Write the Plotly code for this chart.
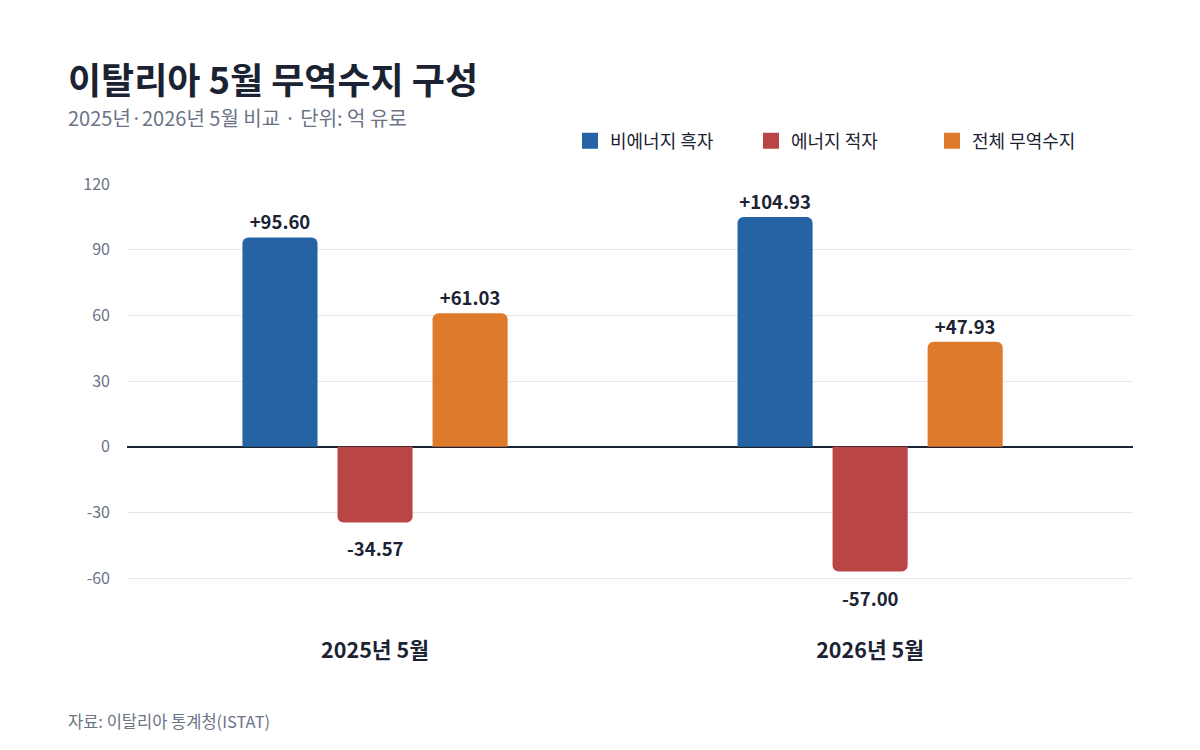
import plotly.graph_objects as go

categories = ["2025년 5월", "2026년 5월"]
series_names = ["비에너지 흑자", "에너지 적자", "전체 무역수지"]
non_energy = [95.60, 104.93]
energy = [-34.57, -57.00]
total = [61.03, 47.93]
colors = ["#2563A5", "#B94545", "#DD7A2C"]
y_ticks = [-60, -30, 0, 30, 60, 90, 120]

FONT = "Noto Sans CJK KR, Noto Sans, sans-serif"
DARK = "#1B2333"
GRAY = "#6B7386"
LABEL_FONT = dict(family=FONT, size=18.5, color=DARK, weight="bold")

fig = go.Figure()
label_anns = []
for name, vals, col in zip(series_names, [non_energy, energy, total], colors):
    texts = [f"{v:+.2f}" for v in vals]
    fig.add_trace(go.Bar(
        x=categories, y=vals, name=name, showlegend=False,
        marker=dict(color=col, line=dict(width=0)),
        text=[t if v >= 0 else "" for t, v in zip(texts, vals)],
        textposition="outside",
        textfont=LABEL_FONT,
        cliponaxis=False,
        hoverinfo="skip",
    ))
    # legend entry with square swatch
    fig.add_trace(go.Scatter(
        x=[None], y=[None], mode="markers", name=name,
        marker=dict(symbol="square", size=17, color=col),
        hoverinfo="skip",
    ))
    for c, v, t in zip(categories, vals, texts):
        if v < 0:
            label_anns.append(dict(text=t, x=c, y=v, xref="x", yref="y",
                                   yshift=-26, showarrow=False,
                                   xanchor="center", yanchor="middle",
                                   font=LABEL_FONT))

fig.update_layout(
    width=1200, height=750,
    margin=dict(l=127, r=67, t=184, b=139),
    paper_bgcolor="white", plot_bgcolor="white",
    font=dict(family=FONT, color=DARK),
    barmode="group", bargap=0.424, bargroupgap=0.21,
    barcornerradius=6,
    showlegend=True,
    legend=dict(orientation="h", x=570 / 1200, xref="container", y=1 - 141 / 750,
                yref="container", xanchor="left", yanchor="middle",
                entrywidth=136, entrywidthmode="pixels",
                font=dict(family=FONT, size=18, color=DARK),
                itemwidth=30, traceorder="normal"),
    xaxis=dict(type="category", range=[-0.501, 1.531], showgrid=False, showline=False,
               ticks="", tickfont=dict(family=FONT, size=21.5, color=DARK, weight="bold"),
               ticklabelstandoff=24, zeroline=False),
    yaxis=dict(range=[-75, 120], tickvals=y_ticks, ticktext=[str(v) for v in y_ticks],
               showgrid=True, gridcolor="#E4E7EE", gridwidth=1,
               zeroline=True, zerolinecolor=DARK, zerolinewidth=2,
               tickfont=dict(family=FONT, size=16, color=GRAY),
               ticks="", ticklabelstandoff=16, showline=False),
)

anns = []
specs = [
    ("<b>이탈리아 5월 무역수지 구성</b>", 78, 36, DARK),
    ("2025년·2026년 5월 비교 · 단위: 억 유로", 117, 20, GRAY),
    ("자료: 이탈리아 통계청(ISTAT)", 721, 16.5, GRAY),
]
for txt, ypx, size, col in specs:
    anns.append(dict(text=txt, xref="paper", yref="paper",
                     x=(66 - 127) / (1200 - 127 - 67),
                     y=1 - (ypx - 184) / (750 - 184 - 139),
                     xanchor="left", yanchor="middle", showarrow=False,
                     font=dict(family=FONT, size=size, color=col)))
fig.update_layout(annotations=anns + label_anns)

fig.write_html("out.html")
